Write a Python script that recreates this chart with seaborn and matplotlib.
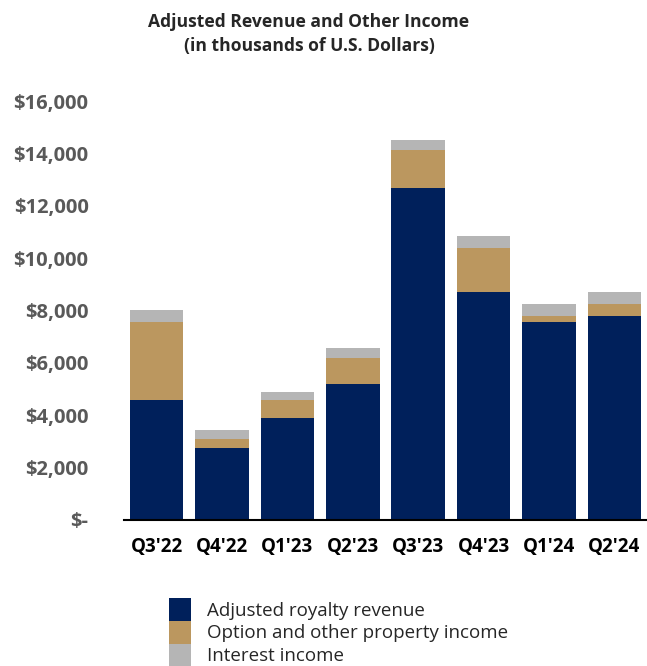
import numpy as np
import pandas as pd
import matplotlib
matplotlib.use("Agg")
import matplotlib.pyplot as plt
from matplotlib.patches import Patch
from matplotlib.ticker import FuncFormatter
import seaborn as sns

# Values (thousands of USD)
quarters = ["Q3'22", "Q4'22", "Q1'23", "Q2'23", "Q3'23", "Q4'23", "Q1'24", "Q2'24"]
royalty = [4580, 2740, 3890, 5190, 12680, 8700, 7560, 7790]
option_income = [2980, 360, 680, 980, 1440, 1700, 230, 450]
interest = [460, 340, 320, 390, 380, 440, 450, 460]

labels = ["Adjusted royalty revenue", "Option and other property income", "Interest income"]
colors = ["#00205B", "#BB975F", "#B5B5B5"]

df = pd.DataFrame({"quarter": quarters, "royalty": royalty,
                   "option": option_income, "interest": interest})
df["lvl2"] = df["royalty"] + df["option"]
df["lvl3"] = df["lvl2"] + df["interest"]

sns.set_theme(style="white")
plt.rcParams["font.family"] = ["Open Sans", "DejaVu Sans"]

fig = plt.figure(figsize=(6.47, 6.66), dpi=100)
ax = fig.add_axes([124 / 647, (666 - 520) / 666, 1 - 124 / 647, (520 - 101) / 666])

# stacked look: draw cumulative heights from the tallest down
for col, c in zip(["lvl3", "lvl2", "royalty"], colors[::-1]):
    sns.barplot(data=df, x="quarter", y=col, color=c, width=0.82,
                saturation=1, ax=ax, linewidth=0)

ax.set_ylim(0, 16000)
ax.set_xlim(-0.5, 7.5)
ax.set_yticks(np.arange(0, 16001, 2000))
ax.yaxis.set_major_formatter(FuncFormatter(lambda v, p: "$-" if v == 0 else f"${v:,.0f}"))
ax.set_xlabel("")
ax.set_ylabel("")
for s in ["top", "right", "left"]:
    ax.spines[s].set_visible(False)
ax.spines["bottom"].set_color("black")
ax.spines["bottom"].set_linewidth(1.5)
ax.tick_params(axis="y", length=0, pad=25.5, labelsize=14.5, labelcolor="#595959")
ax.tick_params(axis="x", length=0, pad=12, labelsize=13.5, labelcolor="black")
for t in ax.get_yticklabels():
    t.set_fontweight("bold")
for t in ax.get_xticklabels():
    t.set_fontweight("bold")

fig.text(309 / 647, 1 - 34 / 666, "Adjusted Revenue and Other Income\n(in thousands of U.S. Dollars)",
         ha="center", va="center", fontsize=12.6, fontweight="bold", linespacing=1.45)

handles = [Patch(facecolor=c, edgecolor="none") for c in colors]
fig.legend(handles, labels, loc="upper left", bbox_to_anchor=(169 / 647, 1 - 598 / 666),
           frameon=False, fontsize=13.5, handlelength=1.17, handleheight=1.5,
           labelspacing=0.0, handletextpad=0.85, borderaxespad=0, borderpad=0)

fig.savefig("out.png", dpi=100)
